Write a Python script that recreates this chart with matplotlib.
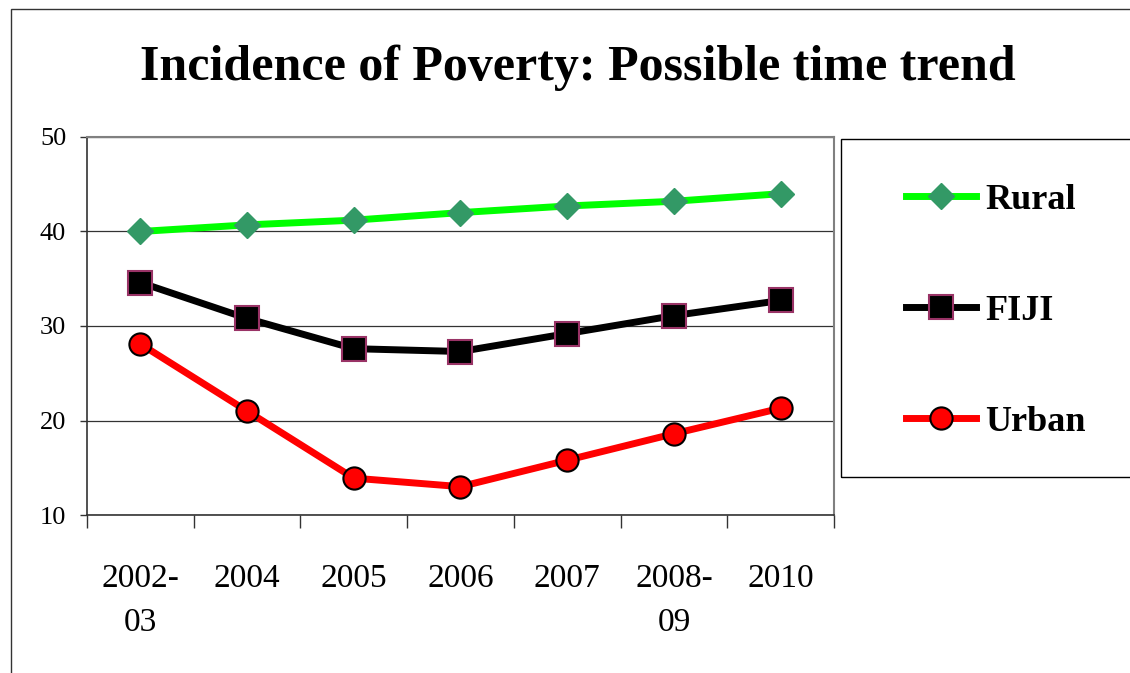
import matplotlib
matplotlib.use('Agg')
import matplotlib.pyplot as plt
from matplotlib.patches import Rectangle
from matplotlib.ticker import FixedLocator, NullFormatter

# data
years = ['2002-\n03', '2004', '2005', '2006', '2007', '2008-\n09', '2010']
rural = [40.0, 40.7, 41.2, 42.0, 42.7, 43.2, 44.0]
fiji = [34.6, 30.8, 27.6, 27.3, 29.2, 31.1, 32.7]
urban = [28.1, 21.0, 13.9, 13.0, 15.8, 18.6, 21.3]

plt.rcParams['font.family'] = ['Liberation Serif', 'DejaVu Serif']

W, H = 1130, 673
fig = plt.figure(figsize=(W / 100, H / 100), dpi=100)

# outer chart frame (runs off right and bottom edges like the original)
fig.add_artist(Rectangle((11 / W, -0.1), 2.0, 1.1 - 9 / H, transform=fig.transFigure,
                         fill=False, edgecolor='#333333', linewidth=1.0))

ax = fig.add_axes([87 / W, 1 - 515 / H, (834 - 87) / W, (515 - 137) / H])

xs = list(range(len(years)))
ax.plot(xs, rural, color='#00ff00', lw=5, marker='D', ms=13,
        mfc='#339966', mec='#339966', label='Rural', zorder=3)
ax.plot(xs, fiji, color='black', lw=5, marker='s', ms=17,
        mfc='black', mec='#993366', mew=1.5, label='FIJI', zorder=3)
ax.plot(xs, urban, color='#ff0000', lw=5, marker='o', ms=16,
        mfc='#ff0000', mec='black', mew=1.5, label='Urban', zorder=3)

ax.set_xlim(-0.5, len(years) - 0.5)
ax.set_ylim(10, 50)
ax.set_yticks([10, 20, 30, 40, 50])

# ticks at category boundaries, labels at centres
ax.xaxis.set_major_locator(FixedLocator([i - 0.5 for i in range(len(years) + 1)]))
ax.xaxis.set_major_formatter(NullFormatter())
ax.xaxis.set_minor_locator(FixedLocator(xs))
ax.set_xticklabels(years, minor=True, linespacing=1.55)
ax.tick_params(axis='x', which='major', direction='out', length=9, width=1, color='#333333')
ax.tick_params(axis='x', which='minor', length=0, pad=35, labelsize=24)
ax.tick_params(axis='y', direction='out', length=5, width=1, pad=10, labelsize=19, color='#333333')

ax.yaxis.grid(True, color='#333333', lw=0.9)
ax.set_axisbelow(True)
for s in ['top', 'right']:
    ax.spines[s].set_color('#808080')
    ax.spines[s].set_linewidth(1.5)
for s in ['left', 'bottom']:
    ax.spines[s].set_color('#333333')
    ax.spines[s].set_linewidth(1.2)

fig.text(578 / W, 1 - 68 / H, 'Incidence of Poverty: Possible time trend',
         ha='center', va='center', fontsize=36, fontweight='bold')

# legend box
fig.add_artist(Rectangle((841 / W, 1 - 477 / H), 1.0, (477 - 139) / H,
                         transform=fig.transFigure, fill=False,
                         edgecolor='black', linewidth=1.0))
fig.legend(loc='center left', bbox_to_anchor=(888 / W, 1 - 311 / H), frameon=False,
           prop={'weight': 'bold', 'size': 26}, handlelength=1.95,
           handletextpad=0.25, labelspacing=2.15, borderpad=0)

fig.savefig('out.png', dpi=100)
